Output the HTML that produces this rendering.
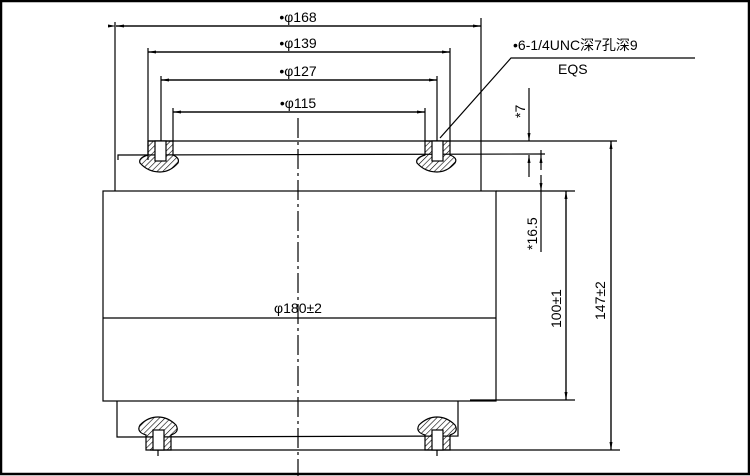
<!DOCTYPE html>
<html><head><meta charset="utf-8"><style>
html,body{margin:0;padding:0;background:#fff}
svg{display:block}
text{font-family:"Liberation Sans","Noto Sans CJK SC",sans-serif;font-size:14px;fill:#000}
</style></head><body>
<svg width="750" height="476" viewBox="0 0 750 476" xmlns="http://www.w3.org/2000/svg">
<defs>
<pattern id="h" width="4" height="4" patternUnits="userSpaceOnUse" patternTransform="rotate(45)">
<line x1="0" y1="0" x2="0" y2="4" stroke="#000" stroke-width="1.2"/></pattern>
<marker id="a" markerWidth="8" markerHeight="4" refX="8" refY="2" orient="auto" markerUnits="userSpaceOnUse">
<path d="M0,0.5 L8,2 L0,3.5z" fill="#000"/></marker>
</defs>
<rect x="1" y="1" width="748" height="473" fill="none" stroke="#000" stroke-width="2.5"/>
<g stroke="#000" stroke-width="1.2" fill="none">
<!-- extension lines -->
<line x1="115" y1="22" x2="115" y2="191"/>
<line x1="481" y1="18" x2="481" y2="191"/>
<line x1="148" y1="48" x2="148" y2="160"/>
<line x1="450" y1="48" x2="450" y2="141"/>
<line x1="161" y1="76" x2="161" y2="160"/>
<line x1="437" y1="76" x2="437" y2="141"/>
<line x1="173" y1="108" x2="173" y2="141"/>
<line x1="425" y1="108" x2="425" y2="141"/>
<!-- dim lines -->
<line x1="116" y1="26" x2="481" y2="26" marker-start="url(#a)" marker-end="url(#a)" style="marker-start:url(#a)"/>
<line x1="148" y1="52" x2="450" y2="52" marker-end="url(#a)"/>
<line x1="161" y1="80" x2="437" y2="80" marker-end="url(#a)"/>
<line x1="173" y1="112" x2="425" y2="112" marker-end="url(#a)"/>
<line x1="481" y1="26" x2="116" y2="26" marker-end="url(#a)"/>
<line x1="450" y1="52" x2="148" y2="52" marker-end="url(#a)"/>
<line x1="437" y1="80" x2="161" y2="80" marker-end="url(#a)"/>
<line x1="425" y1="112" x2="173" y2="112" marker-end="url(#a)"/>
<!-- top flange -->
<line x1="148" y1="141" x2="617" y2="141"/>
<path d="M118,160 L118,155 L545,154"/>
<!-- body -->
<rect x="103" y="191" width="393" height="210"/>
<line x1="496" y1="191" x2="575" y2="191"/>
<line x1="470" y1="400" x2="575" y2="400"/>
<!-- lower flange -->
<path d="M117,401 L117,437 L458,436 L458,401"/>
<line x1="150" y1="450" x2="620" y2="450"/>
<!-- centerline -->
<line x1="298" y1="118" x2="298" y2="476" stroke-dasharray="20,4,3,4"/>
<!-- phi180 line -->
<line x1="103" y1="318" x2="496" y2="318"/>
<!-- right dims -->
<line x1="566" y1="191" x2="566" y2="400" marker-end="url(#a)"/>
<line x1="566" y1="400" x2="566" y2="191" marker-end="url(#a)"/>
<line x1="611" y1="141" x2="611" y2="450" marker-end="url(#a)"/>
<line x1="611" y1="450" x2="611" y2="141" marker-end="url(#a)"/>
<line x1="541" y1="150" x2="541" y2="155"/>
<line x1="541" y1="170" x2="541" y2="155" marker-end="url(#a)"/>
<line x1="541" y1="175" x2="541" y2="191" marker-end="url(#a)"/>
<line x1="541" y1="191" x2="541" y2="252"/>
<line x1="529" y1="88" x2="529" y2="141" marker-end="url(#a)"/>
<line x1="529" y1="177" x2="529" y2="155" marker-end="url(#a)"/>
<!-- leader -->
<polyline points="695,58 511,58 440,138" />
</g>
<!-- bolts -->
<g stroke="#000" stroke-width="1.2">
<path d="M148,141 L173,141 L173,155 Q180,158 178,163 Q170,172 160,172 Q148,172 140,163 Q138,158 148,155 Z" fill="url(#h)"/>
<rect x="155" y="141" width="11" height="20" fill="#fff"/>
<path d="M425,141 L450,141 L450,155 Q458,158 455,163 Q447,172 437,172 Q425,172 417,163 Q415,158 425,155 Z" fill="url(#h)"/>
<rect x="432" y="141" width="11" height="20" fill="#fff"/>
<path d="M146,450 L171,450 L171,435 Q180,432 176,425 Q168,417 158,417 Q148,417 140,425 Q136,432 146,435 Z" fill="url(#h)"/>
<rect x="153" y="430" width="11" height="20" fill="#fff"/>
<line x1="158" y1="450" x2="158" y2="456"/>
<path d="M425,450 L450,450 L450,435 Q459,432 455,425 Q447,417 437,417 Q427,417 419,425 Q415,432 425,435 Z" fill="url(#h)"/>
<rect x="432" y="430" width="11" height="20" fill="#fff"/>
<line x1="437" y1="450" x2="437" y2="456"/>
</g>
<text x="298" y="22" text-anchor="middle">•φ168</text>
<text x="298" y="48" text-anchor="middle">•φ139</text>
<text x="298" y="76" text-anchor="middle">•φ127</text>
<text x="298" y="108" text-anchor="middle">•φ115</text>
<text x="298" y="313" text-anchor="middle">φ180±2</text>
<text x="513" y="50">•6-1/4UNC深7孔深9</text>
<text x="558" y="74">EQS</text>
<text transform="translate(525,118) rotate(-90)">*7</text>
<text transform="translate(537,250) rotate(-90)">*16.5</text>
<text transform="translate(561,328) rotate(-90)">100±1</text>
<text transform="translate(605,320) rotate(-90)">147±2</text>
</svg>
</body></html>
